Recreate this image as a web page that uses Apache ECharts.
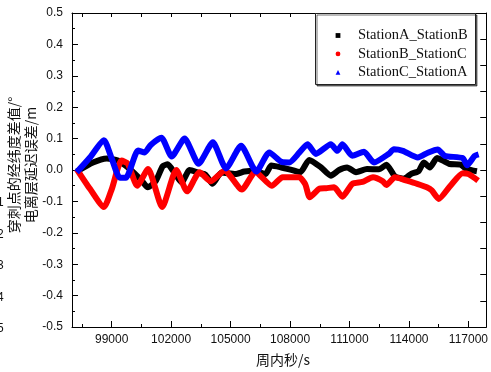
<!DOCTYPE html>
<html>
<head>
<meta charset="utf-8">
<script src="https://cdn.jsdelivr.net/npm/echarts@6/dist/echarts.min.js"></script>
<style>
  html, body { margin: 0; padding: 0; background: #fff; }
  #chart { width: 491px; height: 372px; }
</style>
</head>
<body>
<div id="chart"></div>
<script>
// ---- Data ----
const seriesNames = ['StationA_StationB', 'StationB_StationC', 'StationC_StationA'];
const seriesSymbols = ['rect', 'circle', 'triangle'];

const abTime  = [97236, 98056, 98760, 99313, 99916, 100520, 100821, 101224, 101575, 101827, 102179, 102531, 102933, 103436, 103738, 104090, 104542, 105246, 105698, 106201, 106754, 107056, 107559, 107961, 108514, 108966, 109570, 110058, 110475, 110877, 111330, 111883, 112486, 112863, 113290, 113743, 114095, 114497, 114749, 115051, 115418, 115705, 116057, 116595, 116926, 117429];
const abValue = [-0.005, 0.024, 0.037, 0.030, 0.003, -0.034, -0.055, -0.035, 0.012, 0.018, -0.010, -0.040, 0.000, -0.010, -0.015, -0.044, -0.008, -0.013, -0.005, -0.002, -0.013, 0.014, 0.008, 0.002, -0.007, 0.032, 0.008, -0.018, 0.000, 0.008, -0.007, 0.003, 0.002, 0.017, -0.020, -0.028, -0.013, -0.003, 0.024, 0.008, 0.038, 0.030, 0.019, 0.017, 0.003, -0.004];

const bcTime  = [97236, 97905, 98609, 99011, 99499, 99816, 100293, 100836, 101550, 102264, 102807, 103436, 103989, 104693, 105573, 106252, 107081, 107625, 107961, 108464, 108766, 108992, 109469, 109821, 110223, 110641, 111144, 111647, 112185, 112687, 112863, 113290, 113894, 114413, 114900, 115151, 115503, 116092, 116710, 117012, 117489];
const bcValue = [0.003, -0.060, -0.118, -0.060, 0.030, 0.020, -0.050, 0.003, -0.118, 0.000, -0.068, -0.007, -0.036, -0.002, -0.062, -0.006, -0.050, -0.023, -0.023, -0.023, -0.045, -0.087, -0.060, -0.058, -0.055, -0.085, -0.044, -0.038, -0.023, -0.036, -0.048, -0.023, -0.034, -0.044, -0.055, -0.065, -0.092, -0.050, -0.010, -0.013, -0.034];

const caTime  = [97236, 97905, 98609, 99011, 99413, 99715, 100334, 100670, 100972, 101510, 102028, 102682, 103386, 104105, 104768, 105532, 106302, 106955, 107559, 107961, 108464, 108881, 109304, 110058, 110390, 110641, 111144, 111732, 112235, 112989, 113240, 113693, 114447, 114950, 115453, 115805, 116710, 116936, 117313, 117514];
const caValue = [-0.007, 0.040, 0.095, 0.035, -0.025, -0.025, 0.062, 0.056, 0.080, 0.103, 0.043, 0.100, 0.020, 0.088, 0.005, 0.077, -0.005, 0.056, 0.026, 0.024, 0.055, 0.082, 0.051, 0.082, 0.061, 0.082, 0.045, 0.058, 0.024, 0.052, 0.066, 0.061, 0.040, 0.055, 0.065, 0.045, 0.038, 0.015, 0.045, 0.050];

const xLabelTicks = [99000, 102000, 105000, 108000, 111000, 114000, 117000];
const xMinorTicks = [97500, 100500, 103500, 106500, 109500, 112500, 115500];
const xTopTicks   = [97500, 99000, 100500, 102000, 103500, 105000, 106500, 108000, 109500, 111000, 112500, 114000, 115500, 117000];
const yLeftMin = -0.5, yLeftMax = 0.5, yLeftStep = 0.1;
const yRightMin = -6, yRightMax = 6, yRightStep = 1;
const xMin = 97000, xMax = 117900;
const yTitle = '穿刺点的经纬度差值/°\n电离层延迟误差/m';
const xTitle = '周内秒/s';
const cutLabels = ['1', '2', '3', '4', '5'];
const cutLabelValues = [-0.1, -0.2, -0.3, -0.4, -0.5];

function zip(t, v) { return t.map((x, i) => [x, v[i]]); }

const chart = echarts.init(document.getElementById('chart'), null, { renderer: 'canvas' });

const grid = { left: 72, top: 13, right: 4, bottom: 43 };
const plotH = 372 - grid.top - grid.bottom;
function yPix(v) { return grid.top + (yLeftMax - v) / (yLeftMax - yLeftMin) * plotH; }

const sansFont = 'Liberation Sans';
const serifFont = 'Liberation Serif';
const cjkFont = 'Noto Sans CJK SC';

const baseX = {
  type: 'value', min: xMin, max: xMax, gridIndex: 0,
  splitLine: { show: false },
  axisLine: { show: true, onZero: false, lineStyle: { color: '#000', width: 1 } }
};

const option = {
  animation: false,
  backgroundColor: '#fff',
  grid: grid,
  xAxis: [
    Object.assign({}, baseX, {
      position: 'bottom',
      axisTick: { show: true, inside: true, length: 6, customValues: xLabelTicks, lineStyle: { color: '#000' } },
      axisLabel: { show: true, customValues: xLabelTicks, fontSize: 12, fontFamily: sansFont, color: '#111', margin: 7, formatter: v => String(v) },
      name: xTitle, nameLocation: 'middle', nameGap: 26,
      nameTextStyle: { fontSize: 14, fontFamily: cjkFont, color: '#111', padding: [0, 0, 0, 8] }
    }),
    Object.assign({}, baseX, {
      position: 'bottom',
      axisLine: { show: false, onZero: false },
      axisTick: { show: true, inside: true, length: 3, customValues: xMinorTicks, lineStyle: { color: '#000' } },
      axisLabel: { show: false }
    }),
    Object.assign({}, baseX, {
      position: 'top',
      axisTick: { show: true, inside: true, length: 4, customValues: xTopTicks, lineStyle: { color: '#000' } },
      axisLabel: { show: false }
    })
  ],
  yAxis: [
    {
      type: 'value', min: yLeftMin, max: yLeftMax, interval: yLeftStep, position: 'left',
      splitLine: { show: false },
      axisLine: { show: true, onZero: false, lineStyle: { color: '#000', width: 1 } },
      axisTick: { show: true, inside: true, length: 6, lineStyle: { color: '#000' } },
      minorTick: { show: true, splitNumber: 2, length: 3, lineStyle: { color: '#000' } },
      axisLabel: {
        fontSize: 12, fontFamily: sansFont, color: '#111', margin: 9,
        formatter: v => (Math.abs(v) < 1e-9 ? 0 : v).toFixed(1)
      }
    },
    {
      type: 'value', min: yRightMin, max: yRightMax, interval: yRightStep, position: 'right',
      splitLine: { show: false },
      axisLine: { show: true, onZero: false, lineStyle: { color: '#000', width: 1 } },
      axisTick: { show: true, inside: true, length: 6, lineStyle: { color: '#000' } },
      axisLabel: { show: false }
    }
  ],
  legend: {
    orient: 'vertical', left: 323, top: 28, padding: 0,
    itemWidth: 30, itemHeight: 6, itemGap: 3.4,
    symbolKeepAspect: true,
    lineStyle: { width: 0, opacity: 0 },
    textStyle: { fontFamily: serifFont, fontSize: 14.5, color: '#111', lineHeight: 15 },
    data: seriesNames,
    selectedMode: false
  },
  graphic: [
    {
      type: 'rect', z: 1, left: 315, top: 13,
      shape: { width: 160, height: 71 },
      style: { fill: '#fff', stroke: '#222', lineWidth: 1, shadowColor: 'rgba(0,0,0,0.55)', shadowOffsetX: 1.5, shadowOffsetY: 1.5, shadowBlur: 0 }
    },
    {
      type: 'text', x: 22, y: 165, rotation: Math.PI / 2,
      style: { text: yTitle, fontSize: 14, lineHeight: 17, fontFamily: cjkFont, fill: '#111', align: 'center', verticalAlign: 'middle' }
    }
  ].concat(cutLabels.map((s, i) => ({
    type: 'text', x: -3, y: yPix(cutLabelValues[i]),
    style: { text: s, fontSize: 12, fontFamily: sansFont, fill: '#111', align: 'left', verticalAlign: 'middle' }
  }))),
  series: [0, 1, 2].map(i => ({
    name: seriesNames[i], type: 'line',
    data: zip([abTime, bcTime, caTime][i], [abValue, bcValue, caValue][i]),
    color: ['#000000', '#ff0000', '#0000ff'][i],
    symbol: seriesSymbols[i], showSymbol: false,
    smooth: 0.2, lineStyle: { width: 6 }, z: 2 + i
  }))
};
chart.setOption(option);
</script>
</body>
</html>
